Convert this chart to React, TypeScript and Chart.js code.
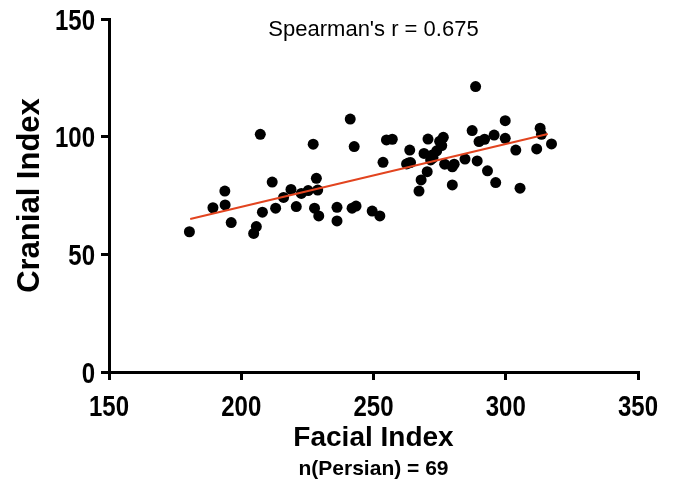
import React, { useEffect, useRef } from "react";
import { Chart, registerables } from "chart.js";

Chart.register(...registerables);

const facialIndex = [
  180.4, 189.3, 193.8, 193.9, 196.2, 204.7, 205.7, 207.2, 208.0, 211.7,
  213.0, 216.0, 218.8, 220.8, 222.7, 225.3, 227.2, 227.7, 228.4, 228.9,
  229.3, 236.2, 236.2, 241.2, 241.9, 242.7, 243.4, 249.5, 252.4, 253.6,
  254.9, 257.1, 262.5, 263.7, 264.0, 267.2, 268.0, 269.1, 270.3, 270.6,
  271.6, 272.2, 273.9, 275.8, 276.4, 276.9, 279.8, 279.8, 284.6, 287.3,
  288.6, 289.2, 289.9, 292.0, 293.1, 295.6, 296.2, 299.8, 299.8, 303.8,
  305.4, 311.7, 313.0, 313.5, 317.3, 275.0, 272.5, 280.5, 263.2,
];
const cranialIndex = [
  59.6, 69.8, 76.9, 71.0, 63.5, 58.9, 61.8, 101.0, 67.9, 80.7,
  69.6, 74.2, 77.6, 70.3, 75.9, 77.1, 96.8, 69.6, 82.3, 77.3,
  66.3, 70.0, 64.2, 107.5, 69.6, 95.8, 70.5, 68.4, 66.3, 89.1,
  98.6, 98.9, 88.4, 94.3, 89.0, 76.9, 81.6, 92.9, 85.1, 99.0,
  90.1, 92.2, 94.0, 96.2, 99.7, 88.3, 87.2, 79.5, 90.5, 102.6,
  121.3, 89.7, 97.9, 98.9, 85.5, 100.7, 80.5, 106.8, 99.3, 94.3,
  78.1, 94.8, 103.6, 101.0, 96.9, 98.0, 91.0, 88.3, 88.8,
];
const fitX = [180.7, 315.9];
const fitY = [65.0, 101.1];
const xTicks = [150, 200, 250, 300, 350];
const yTicks = [0, 50, 100, 150];
const titleText = "Spearman's r = 0.675";
const noteText = "n(Persian) = 69";
const xTitle = "Facial Index";
const yTitle = "Cranial Index";

const FONT = '"Liberation Sans", Arial, sans-serif';

export default function App() {
  const ref = useRef<HTMLCanvasElement | null>(null);

  useEffect(() => {
    if (!ref.current) return;
    const textPlugin = {
      id: "extraText",
      afterDraw(chart: any) {
        const { ctx, chartArea, scales } = chart;
        const cx = (chartArea.left + chartArea.right) / 2;
        ctx.save();
        ctx.fillStyle = "#000";
        ctx.textAlign = "center";
        ctx.textBaseline = "alphabetic";
        ctx.font = `22px ${FONT}`;
        ctx.fillText(titleText, cx, 36);
        ctx.font = `bold 21px ${FONT}`;
        ctx.fillText(noteText, cx, 475);

        // condensed tick labels
        ctx.font = `bold 30px ${FONT}`;
        const sx = 0.8;
        xTicks.forEach((v) => {
          const px = scales.x.getPixelForValue(v);
          ctx.save();
          ctx.translate(px, 416);
          ctx.scale(sx, 1);
          ctx.textAlign = "center";
          ctx.fillText(String(v), 0, 0);
          ctx.restore();
        });
        yTicks.forEach((v) => {
          const py = scales.y.getPixelForValue(v);
          ctx.save();
          ctx.translate(scales.y.right - 14, py + 10.5);
          ctx.scale(sx, 1);
          ctx.textAlign = "right";
          ctx.fillText(String(v), 0, 0);
          ctx.restore();
        });
        ctx.restore();
      },
    };

    const chart = new Chart(ref.current, {
      type: "scatter",
      data: {
        datasets: [
          {
            type: "line",
            data: fitX.map((x, i) => ({ x, y: fitY[i] })),
            borderColor: "#e2441f",
            borderWidth: 2,
            pointRadius: 0,
            fill: false,
          } as any,
          {
            data: facialIndex.map((x, i) => ({ x, y: cranialIndex[i] })),
            backgroundColor: "#000",
            borderColor: "#000",
            pointRadius: 5.5,
            pointBorderWidth: 0,
          },
        ],
      },
      options: {
        responsive: false,
        animation: false,
        devicePixelRatio: 1,
        layout: { padding: { left: 12, top: 19, right: 40, bottom: 34 } },
        plugins: {
          legend: { display: false },
          tooltip: { enabled: false },
        },
        scales: {
          x: {
            type: "linear",
            min: 150,
            max: 350,
            afterBuildTicks: (s: any) => {
              s.ticks = xTicks.map((v) => ({ value: v }));
            },
            afterFit: (s: any) => {
              s.height = 83;
            },
            border: { display: true, color: "#000", width: 3 },
            grid: {
              drawOnChartArea: false,
              drawTicks: true,
              tickLength: 8,
              color: "#000",
              lineWidth: 3,
            },
            ticks: { display: false },
            title: {
              display: true,
              text: xTitle,
              color: "#000",
              padding: 0,
              font: { family: FONT, size: 28, weight: "bold" },
            },
          },
          y: {
            type: "linear",
            min: 0,
            max: 150,
            afterBuildTicks: (s: any) => {
              s.ticks = yTicks.map((v) => ({ value: v }));
            },
            afterFit: (s: any) => {
              s.width = 97;
            },
            border: { display: true, color: "#000", width: 3 },
            grid: {
              drawOnChartArea: false,
              drawTicks: true,
              tickLength: 8,
              color: "#000",
              lineWidth: 3,
            },
            ticks: { display: false },
            title: {
              display: true,
              text: yTitle,
              color: "#000",
              padding: 0,
              font: { family: FONT, size: 31, weight: "bold" },
            },
          },
        },
      },
      plugins: [textPlugin],
    } as any);
    return () => chart.destroy();
  }, []);

  return (
    <div style={{ position: "fixed", left: 0, top: 0, width: 678, height: 489, background: "#fff" }}>
      <canvas ref={ref} width={678} height={489} style={{ display: "block" }} />
    </div>
  );
}
